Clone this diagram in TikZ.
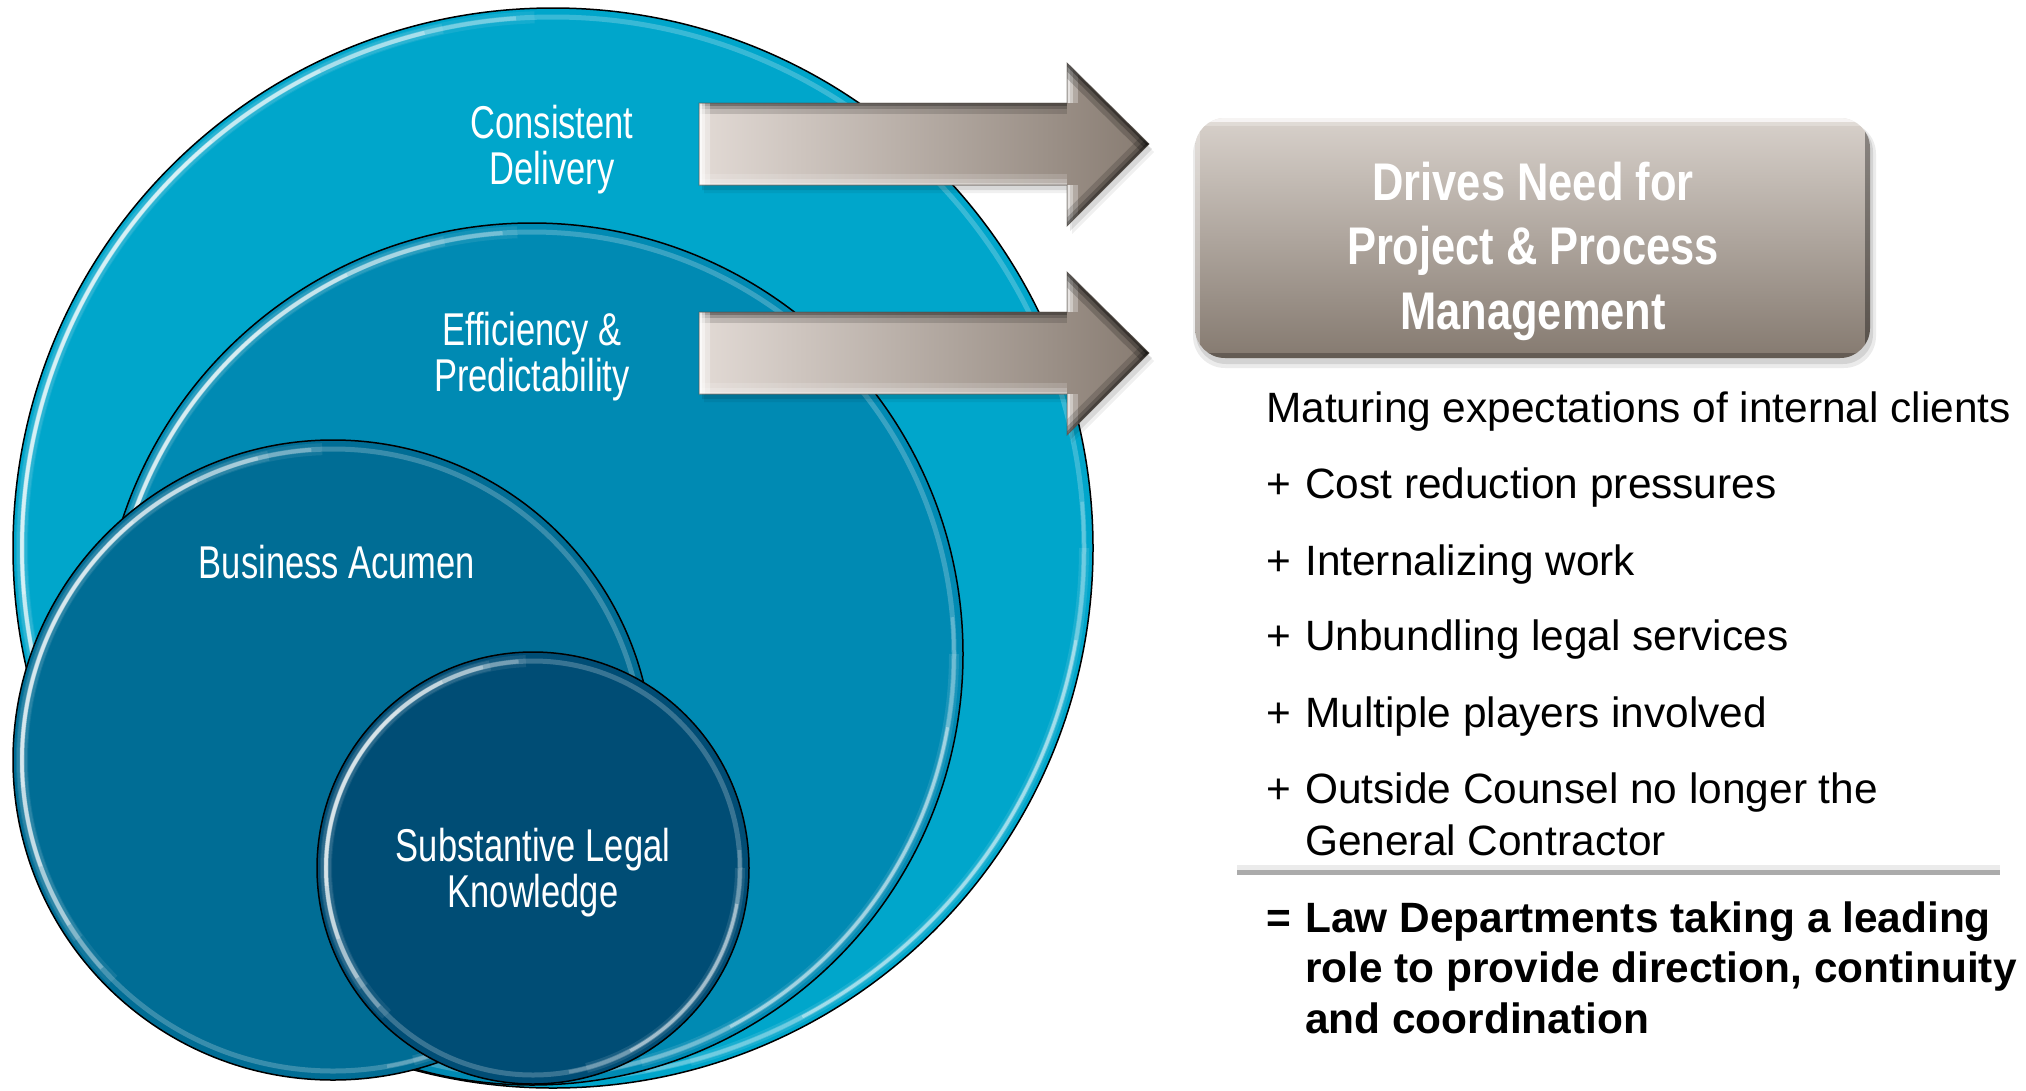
\documentclass[tikz,border=0pt]{standalone}
\usepackage{fontspec}
\setmainfont{Liberation Sans}
\newfontfamily\labelfont[FakeStretch=0.75]{Liberation Sans}
\newfontfamily\titlefont[FakeStretch=0.82]{Liberation Sans}

\definecolor{ringA}{HTML}{00A6CB}
\definecolor{ringB}{HTML}{008AB3}
\definecolor{ringC}{HTML}{006D95}
\definecolor{ringD}{HTML}{004D75}
\definecolor{arrowL}{HTML}{E2DAD5}
\definecolor{arrowR}{HTML}{877B71}
\definecolor{boxT}{HTML}{D8D1CB}
\definecolor{boxB}{HTML}{857A70}
\definecolor{rulegray}{HTML}{ABABAB}

% outline of a block arrow whose axis lies at height #1
\newcommand\arrowpath[1]{(699,#1-41) -- (1067,#1-41) -- (1067,#1-81) -- (1149,#1)
  -- (1067,#1+82) -- (1067,#1+41) -- (699,#1+41) -- cycle}
% soft bevel along one edge (drawn inside a clip)
\newcommand\rim[4]{%
  \draw[#1,opacity=#2*.35,line width=22] #3 -- #4;
  \draw[#1,opacity=#2*.45,line width=12] #3 -- #4;
  \draw[#1,opacity=#2*.6,line width=5] #3 -- #4;}
% beveled block arrow
\newcommand\blockarrow[1]{%
  \fill[black,opacity=.10] [shift={(3,5)}] \arrowpath{#1};
  \fill[black,opacity=.06] [shift={(5,8)}] \arrowpath{#1};
  \shade[left color=arrowL,right color=arrowR] \arrowpath{#1};
  \begin{scope}
    \clip \arrowpath{#1};
    \rim{black}{.4}{(690,#1-41)}{(1067,#1-41)}
    \rim{white}{1}{(699,#1-50)}{(699,#1+50)}
    \rim{white}{.45}{(690,#1+41)}{(1067,#1+41)}
    \rim{white}{.8}{(1067,#1-81)}{(1067,#1-41)}
    \rim{white}{.8}{(1067,#1+41)}{(1067,#1+82)}
    \rim{black}{.55}{(1067,#1-81)}{(1149,#1)}
    \rim{black}{.45}{(1149,#1)}{(1067,#1+82)}
  \end{scope}
  \draw[arrowR!60!black,opacity=.6,line width=1] \arrowpath{#1};}
% one arc of the glossy ring: centre, radius, from, to, opacity, width
\newcommand\glossarc[6]{%
  \draw[white,opacity=#5,line width=#6] (#1) ++(#3:#2) arc[start angle=#3,end angle=#4,radius=#2];}
% glossy inner ring of a disc, brightest to the upper left
\newcommand\gloss[2]{%
  \draw[white,opacity=.22,line width=5] (#1) circle (#2);
  \glossarc{#1}{#2}{135}{268}{.08}{12}
  \glossarc{#1}{#2}{145}{258}{.10}{10}
  \glossarc{#1}{#2}{138}{266}{.25}{4}
  \glossarc{#1}{#2}{148}{256}{.3}{4}
  \glossarc{#1}{#2}{160}{244}{.35}{3.5}
  \glossarc{#1}{#2}{175}{230}{.3}{3}
  \glossarc{#1}{#2}{0}{75}{.1}{10}
  \glossarc{#1}{#2}{-5}{80}{.2}{3.5}
  \glossarc{#1}{#2}{10}{62}{.35}{3}}

\tikzset{
  disc/.style={circle,draw=black,line width=1.5,inner sep=0,outer sep=0,minimum size=#1},
  disclabel/.style={text=white,font=\labelfont\fontsize{46}{44}\selectfont,anchor=base,inner sep=0},
  bodytext/.style={anchor=base west,inner sep=0,font=\fontsize{42.4}{52}\selectfont},
  boldtext/.style={anchor=base west,inner sep=0,font=\bfseries\fontsize{42.4}{50.5}\selectfont},
}

\begin{document}
\begin{tikzpicture}[x=1pt,y=-1pt]
\useasboundingbox (0,0) rectangle (2026,1090);

% nested discs
\node[disc=1080,fill=ringA] (consistent) at (553,548) {};
\gloss{consistent.center}{531}
\node[disc=862,fill=ringB] (efficiency) at (532,654) {};
\gloss{efficiency.center}{422}
\node[disc=640,fill=ringC] (business) at (333,760) {};
\gloss{business.center}{311}
\node[disc=432,fill=ringD] (legal) at (533,868) {};
\gloss{legal.center}{207}

% disc labels
\node[disclabel] (lconsistent) at (552,138)
  {\begin{tabular}[t]{@{}c@{}}Consistent\\Delivery\end{tabular}};
\node[disclabel] (lefficiency) at (532,345)
  {\begin{tabular}[t]{@{}c@{}}Efficiency \&\\Predictability\end{tabular}};
\node[disclabel] (lbusiness) at (337,578) {Business Acumen};
\node[disclabel] (llegal) at (533,861)
  {\begin{tabular}[t]{@{}c@{}}Substantive Legal\\Knowledge\end{tabular}};

% block arrows
\blockarrow{144}
\blockarrow{353}

% title box
\fill[black,opacity=.08,rounded corners=32] (1193,122) rectangle (1876,368);
\fill[black,opacity=.10,rounded corners=30] (1196,122) rectangle (1873,364);
\node[rounded corners=30,minimum width=675,minimum height=240,inner sep=0,
      top color=boxT,bottom color=boxB,shade] (drives) at (1532.5,238) {};
\begin{scope}
  \clip[rounded corners=30] (1195,118) rectangle (1870,358);
  \draw[white,opacity=.7,line width=5] (1195,119) -- (1870,119);
  \draw[white,opacity=.25,line width=14] (1195,119) -- (1870,119);
  \draw[white,opacity=.35,line width=10] (1195,118) -- (1195,358);
  \draw[black,opacity=.35,line width=10] (1870,118) -- (1870,358);
  \draw[black,opacity=.25,line width=10] (1195,358) -- (1870,358);
\end{scope}
\node[anchor=base,inner sep=0,text=white,
      font=\titlefont\bfseries\fontsize{53}{64.5}\selectfont] (title) at (1533,200)
  {\begin{tabular}[t]{@{}c@{}}Drives Need for\\Project \& Process\\Management\end{tabular}};

% list of drivers
\node[bodytext] (t1) at (1266,422) {Maturing expectations of internal clients};
\node[bodytext] (p2) at (1266,498) {+};
\node[bodytext] (t2) at (1305,498) {Cost reduction pressures};
\node[bodytext] (p3) at (1266,575) {+};
\node[bodytext] (t3) at (1305,575) {Internalizing work};
\node[bodytext] (p4) at (1266,650) {+};
\node[bodytext] (t4) at (1305,650) {Unbundling legal services};
\node[bodytext] (p5) at (1266,727) {+};
\node[bodytext] (t5) at (1305,727) {Multiple players involved};
\node[bodytext] (p6) at (1266,803) {+};
\node[bodytext] (t6) at (1305,803)
  {\begin{tabular}[t]{@{}l@{}}Outside Counsel no longer the\\General Contractor\end{tabular}};

% summing rule
\coordinate (ruleL) at (1237,872);
\coordinate (ruleR) at (2000,872);
\draw[black,opacity=.08,line width=6] ([yshift=4]ruleL) -- ([yshift=4]ruleR);
\draw[rulegray,line width=5] (ruleL) -- (ruleR);

% result
\node[boldtext] (eq) at (1266,932) {=};
\node[boldtext] (result) at (1305,932)
  {\begin{tabular}[t]{@{}l@{}}Law Departments taking a leading\\role to provide direction, continuity\\and coordination\end{tabular}};
\end{tikzpicture}
\end{document}
